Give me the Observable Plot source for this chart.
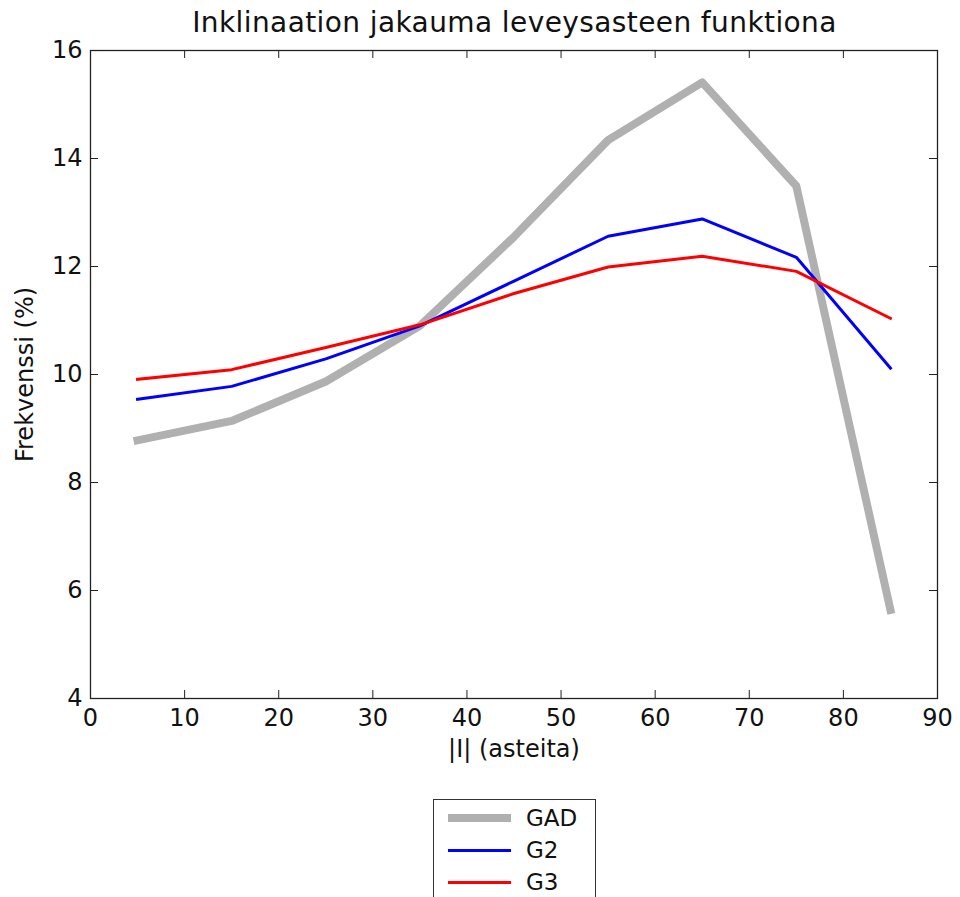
<!DOCTYPE html>
<html>
<head>
<meta charset="utf-8">
<script src="https://cdn.jsdelivr.net/npm/d3@7"></script>
<script src="https://cdn.jsdelivr.net/npm/@observablehq/plot@0.6"></script>
<style>
  html, body { margin: 0; padding: 0; background: #fff; }
  body { width: 960px; height: 897px; position: relative; overflow: hidden;
         font-family: "DejaVu Sans", sans-serif; color: #111; }
  #title { position: absolute; top: 6px; left: 90px; width: 849px; text-align: center;
           font-size: 28px; line-height: 34px; letter-spacing: 0.4px; white-space: nowrap; }
  #chart { position: absolute; top: 40px; left: 0; }
  #legend { position: absolute; left: 433px; top: 799px; width: 161px; height: 120px;
            border: 1px solid #333; background: #fff; }
  .entry { position: absolute; left: 0; height: 30px; width: 160px; }
  .swatch { position: absolute; left: 14px; width: 63px; }
  .entry span.lbl { position: absolute; left: 92px; font-size: 23px; line-height: 30px; top: 0; }
</style>
</head>
<body>
<div id="title">Inklinaation jakauma leveysasteen funktiona</div>
<div id="chart"></div>
<div id="legend"></div>
<script>
// Inclination frequency (%) by absolute latitude bin (degrees)
const latitude = [5, 15, 25, 35, 45, 55, 65, 75, 85];
const gad = [8.78, 9.14, 9.87, 10.9, 12.55, 14.34, 15.41, 13.49, 5.64];
const g2 = [9.54, 9.78, 10.29, 10.9, 11.73, 12.56, 12.88, 12.17, 10.12];
const g3 = [9.91, 10.09, 10.5, 10.92, 11.5, 11.99, 12.19, 11.91, 11.04];

const seriesNames = ["GAD", "G2", "G3"];
const seriesColors = ["#b0b0b0", "#0000ff", "#ff0000"];
const seriesWidths = [8, 3, 3];

const xTicks = [0, 10, 20, 30, 40, 50, 60, 70, 80, 90];
const yTicks = [4, 6, 8, 10, 12, 14, 16];

const xLabel = "|I| (asteita)";
const yLabel = "Frekvenssi (%)";

const seriesValues = [gad, g2, g3];
const rows = seriesNames.flatMap((name, s) =>
  latitude.map((lat, i) => ({series: name, lat, value: seriesValues[s][i]})));

const W = 960, H = 750;
const mT = 10, mB = 92, mL = 90, mR = 23;
const frameW = W - mL - mR, frameH = H - mT - mB;
const tickLen = 8;
const axisColor = "#222";

const chart = Plot.plot({
  width: W,
  height: H,
  marginTop: mT,
  marginBottom: mB,
  marginLeft: mL,
  marginRight: mR,
  style: {background: "#fff", fontFamily: "DejaVu Sans, sans-serif", color: "#111", overflow: "visible"},
  x: {domain: [0, 90]},
  y: {domain: [4, 16]},
  marks: [
    // inward ticks on all four sides
    Plot.tickY(yTicks, {y: d => d, insetRight: frameW - tickLen, stroke: axisColor}),
    Plot.tickY(yTicks, {y: d => d, insetLeft: frameW - tickLen, stroke: axisColor}),
    Plot.tickX(xTicks, {x: d => d, insetTop: frameH - tickLen, stroke: axisColor}),
    Plot.tickX(xTicks, {x: d => d, insetBottom: frameH - tickLen, stroke: axisColor}),
    Plot.axisX({ticks: xTicks, tickSize: 0, tickPadding: 10, fontSize: 24, label: null, tickFormat: d => String(d)}),
    Plot.axisY({ticks: yTicks, tickSize: 0, tickPadding: 8, fontSize: 24, label: null, tickFormat: d => String(d)}),
    ...seriesNames.map((name, s) =>
      Plot.line(rows.filter(r => r.series === name), {
        x: "lat", y: "value",
        stroke: seriesColors[s], strokeWidth: seriesWidths[s],
        strokeLinejoin: "round", strokeLinecap: "square"
      })),
    Plot.frame({stroke: axisColor, strokeWidth: 1.3}),
    Plot.text([xLabel], {frameAnchor: "bottom", dy: 51, text: d => d, fontSize: 24,
                         textAnchor: "middle", lineAnchor: "middle", fill: "#111"}),
    Plot.text([yLabel], {frameAnchor: "left", dx: -65, text: d => d, fontSize: 24, rotate: -90,
                         textAnchor: "middle", lineAnchor: "middle", fill: "#111"})
  ]
});
document.getElementById("chart").appendChild(chart);

// legend below the chart
const legend = document.getElementById("legend");
seriesNames.forEach((name, s) => {
  const entry = document.createElement("div");
  entry.className = "entry";
  entry.style.top = (3 + s * 32) + "px";
  const sw = document.createElement("div");
  sw.className = "swatch";
  sw.style.height = seriesWidths[s] + "px";
  sw.style.top = (15 - seriesWidths[s] / 2) + "px";
  sw.style.background = seriesColors[s];
  const lbl = document.createElement("span");
  lbl.className = "lbl";
  lbl.textContent = name;
  entry.appendChild(sw);
  entry.appendChild(lbl);
  legend.appendChild(entry);
});
</script>
</body>
</html>
